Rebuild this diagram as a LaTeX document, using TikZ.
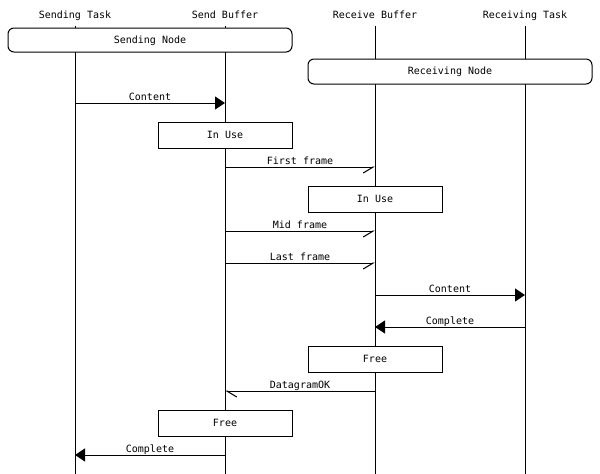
\documentclass[tikz,border=0pt]{standalone}
\usepackage{fontspec}
\setmonofont{DejaVu Sans Mono}
\usetikzlibrary{arrows.meta}
\tikzset{
	entity/.style={font=\ttfamily, inner sep=0pt, text height=7.5pt, text depth=2.5pt},
	lifeline/.style={line width=1pt},
	groupbox/.style={draw, fill=white, line width=1pt, rounded corners=6pt, minimum width=284pt, font=\ttfamily, text height=6pt, text depth=0pt},
	actbox/.style={draw, fill=white, line width=1pt, minimum width=134pt, minimum height=26pt, font=\ttfamily, text height=6pt, text depth=0pt},
	msglabel/.style={midway, above, inner sep=0pt, font=\ttfamily, text height=7.5pt, text depth=2.5pt},
	sync/.style={line width=1pt, -{Triangle[length=10pt, width=13pt]}},
	async/.style={line width=1pt, -{Straight Barb[harpoon, swap, length=10pt, width=12pt]}},
	asyncback/.style={line width=1pt, -{Straight Barb[harpoon, length=10pt, width=12pt]}}
}
\begin{document}
\begin{tikzpicture}[x=1pt, y=-1pt]
	\useasboundingbox (0, 0) rectangle (600, 474);
	
	\node[entity] (sendtask) at (75, 15.5) {Sending Task};
	\node[entity] (sendbuf) at (225, 15.5) {Send Buffer};
	\node[entity] (recvbuf) at (375, 15.5) {Receive Buffer};
	\node[entity] (recvtask) at (525, 15.5) {Receiving Task};
	\draw[lifeline] ([yshift=-5pt]sendtask.south) -- (sendtask |- 0, 474);
	\draw[lifeline] ([yshift=-5pt]sendbuf.south) -- (sendbuf |- 0, 474);
	\draw[lifeline] ([yshift=-5pt]recvbuf.south) -- (recvbuf |- 0, 474);
	\draw[lifeline] ([yshift=-5pt]recvtask.south) -- (recvtask |- 0, 474);
	
	\node[groupbox, minimum height=24pt] (sendnode) at (150, 40) {Sending Node};
	\node[groupbox, minimum height=25pt] (recvnode) at (450, 71.5) {Receiving Node};
	
	\draw[sync] (sendtask |- 0, 103) -- node[msglabel] {Content} (sendbuf |- 0, 103);
	\node[actbox] (inuse1) at (225, 135) {In Use};
	\draw[async] (sendbuf |- 0, 167) -- node[msglabel] {First frame} (recvbuf |- 0, 167);
	\node[actbox] (inuse2) at (375, 199) {In Use};
	\draw[async] (sendbuf |- 0, 231) -- node[msglabel] {Mid frame} (recvbuf |- 0, 231);
	\draw[async] (sendbuf |- 0, 263) -- node[msglabel] {Last frame} (recvbuf |- 0, 263);
	\draw[sync] (recvbuf |- 0, 295) -- node[msglabel] {Content} (recvtask |- 0, 295);
	\draw[sync] (recvtask |- 0, 327) -- node[msglabel] {Complete} (recvbuf |- 0, 327);
	\node[actbox] (free1) at (375, 359) {Free};
	\draw[asyncback] (recvbuf |- 0, 391) -- node[msglabel] {DatagramOK} (sendbuf |- 0, 391);
	\node[actbox] (free2) at (225, 423) {Free};
	\draw[sync] (sendbuf |- 0, 455) -- node[msglabel] {Complete} (sendtask |- 0, 455);
\end{tikzpicture}
\end{document}
